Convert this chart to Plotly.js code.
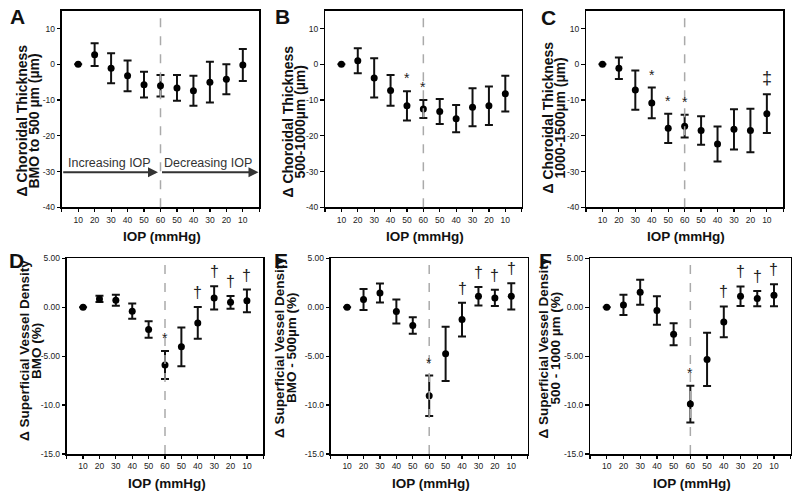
<!DOCTYPE html>
<html>
<head>
<meta charset="utf-8">
<script src="https://cdn.plot.ly/plotly-3.0.1.min.js"></script>
<style>body{margin:0;background:#fff}#chart{width:800px;height:500px}</style>
</head>
<body>
<div id="chart"></div>
<script>
// IOP steps: up to 60 then back down
var iop = [10, 20, 30, 40, 50, 60, 50, 40, 30, 20, 10];

// change in choroidal thickness (um): mean and error
var meanA = [0, 2.7, -1.1, -3.2, -5.7, -6.0, -6.6, -7.4, -5.0, -4.2, -0.2];
var errA  = [0, 3.2, 4.2, 4.3, 3.6, 3.0, 3.6, 4.2, 5.7, 4.2, 4.5];
var meanB = [0, 1.0, -3.8, -7.3, -11.6, -12.5, -13.2, -15.2, -12.0, -11.6, -8.2];
var errB  = [0, 3.5, 5.5, 4.3, 4.1, 2.5, 3.5, 3.8, 5.3, 5.4, 5.0];
var meanC = [0, -1.1, -7.2, -10.8, -17.9, -17.3, -18.5, -22.3, -18.2, -18.5, -13.8];
var errC  = [0, 3.0, 5.5, 4.3, 4.1, 3.2, 4.0, 4.9, 5.6, 6.1, 5.4];

// change in superficial vessel density (%)
var meanD = [0, 0.85, 0.71, -0.41, -2.28, -5.9, -4.05, -1.6, 0.95, 0.5, 0.65];
var errD  = [0, 0.32, 0.56, 0.78, 0.85, 1.43, 1.97, 1.62, 1.19, 0.65, 1.16];
var meanE = [0, 0.78, 1.46, -0.44, -1.87, -9.05, -4.76, -1.26, 1.12, 0.95, 1.12];
var errE  = [0, 1.07, 0.97, 1.22, 0.85, 2.06, 2.77, 1.73, 0.95, 0.83, 1.34];
var meanF = [0, 0.24, 1.53, -0.34, -2.76, -9.9, -5.34, -1.5, 1.12, 0.88, 1.22];
var errF  = [0, 1.04, 1.27, 1.46, 1.12, 1.87, 2.72, 1.58, 1.0, 0.78, 1.12];

// significance marks over the bars
var sigA = ['', '', '', '', '', '', '', '', '', '', ''];
var sigB = ['', '', '', '', '*', '*', '', '', '', '', ''];
var sigC = ['', '', '', '*', '*', '*', '', '', '', '', '‡'];
var sigD = ['', '', '', '', '', '*', '', '†', '†', '†', '†'];
var sigE = ['', '', '', '', '', '*', '', '†', '†', '†', '†'];
var sigF = ['', '', '', '', '', '*', '', '†', '†', '†', '†'];

var thickTicks = [-40, -30, -20, -10, 0, 10];
var thickTickText = ['-40', '-30', '-20', '-10', '0', '10'];
var densTicks = [-15, -10, -5, 0, 5];
var densTickText = ['-15.0', '-10.0', '-5.00', '0.00', '5.00'];

var pos = iop.map(function (v, i) { return i; });
var peak = iop.indexOf(60);

var FONT = 'Arial, Liberation Sans, sans-serif';

var panels = [
  {n: '', letter: 'A', mean: meanA, err: errA, sig: sigA, dx: [61.7, 259.3], dy: [10.7, 207.3], range: [-40, 15],
   tv: thickTicks, tt: thickTickText, title: ['Δ Choroidal Thickness', 'BMO to 500 µm (µm)'], tx: [21.5, 33.5], ty: 121, ts: 14, lx: 17, ly: 16},
  {n: '2', letter: 'B', mean: meanB, err: errB, sig: sigB, dx: [325, 521.7], dy: [10.7, 207.3], range: [-40, 15],
   tv: thickTicks, tt: thickTickText, title: ['Δ Choroidal Thickness', '500-1000µm (µm)'], tx: [287.5, 299.5], ty: 122, ts: 14, lx: 282, ly: 16},
  {n: '3', letter: 'C', mean: meanC, err: errC, sig: sigC, dx: [586, 783.3], dy: [10.7, 207.3], range: [-40, 15],
   tv: thickTicks, tt: thickTickText, title: ['Δ Choroidal Thickness', '1000-1500µm (µm)'], tx: [547.5, 559.5], ty: 118, ts: 14, lx: 548, ly: 17},
  {n: '4', letter: 'D', mean: meanD, err: errD, sig: sigD, dx: [66.7, 263.3], dy: [258.3, 454], range: [-15, 5],
   tv: densTicks, tt: densTickText, title: ['Δ Superficial Vessel Density', 'BMO (%)'], tx: [24, 36], ty: 351, ts: 13.5, lx: 16, ly: 260},
  {n: '5', letter: 'E', mean: meanE, err: errE, sig: sigE, dx: [330.7, 527.7], dy: [258.3, 454], range: [-15, 5],
   tv: densTicks, tt: densTickText, title: ['Δ Superficial Vessel Density', 'BMO - 500µm (%)'], tx: [279, 291], ty: 348, ts: 13.5, lx: 281, ly: 260},
  {n: '6', letter: 'F', mean: meanF, err: errF, sig: sigF, dx: [590, 790.7], dy: [258.3, 454], range: [-15, 5],
   tv: densTicks, tt: densTickText, title: ['Δ Superficial Vessel Density', '500 - 1000 µm (%)'], tx: [542.5, 554.5], ty: 348, ts: 13.5, lx: 545, ly: 260}
];

var data = [];
var layout = {
  width: 800, height: 500,
  margin: {l: 0, r: 0, t: 0, b: 0},
  paper_bgcolor: '#fff', plot_bgcolor: '#fff',
  showlegend: false,
  font: {family: FONT, color: '#000'},
  annotations: [],
  shapes: []
};

var xTickVals = [-1].concat(pos, [pos.length]);
var xTickText = [''].concat(iop.map(String), ['']);

panels.forEach(function (p) {
  var xa = 'x' + p.n, ya = 'y' + p.n;
  data.push({
    type: 'scatter', mode: 'markers', x: pos, y: p.mean,
    xaxis: xa, yaxis: ya,
    marker: {color: '#000', size: 7},
    error_y: {type: 'data', array: p.err, visible: true, color: '#111', thickness: 2, width: 4},
    hoverinfo: 'y'
  });

  var common = {
    showline: true, linecolor: '#000', linewidth: 1.5, mirror: true,
    ticks: 'outside', ticklen: 3.5, tickwidth: 1.2, tickcolor: '#000',
    showgrid: false, zeroline: false, fixedrange: true,
    tickfont: {size: 8.5, color: '#222'}
  };
  layout['xaxis' + p.n] = Object.assign({}, common, {
    domain: [p.dx[0] / 800, p.dx[1] / 800], anchor: ya,
    range: [-1, pos.length], tickmode: 'array', tickvals: xTickVals, ticktext: xTickText
  });
  layout['yaxis' + p.n] = Object.assign({}, common, {
    domain: [1 - p.dy[1] / 500, 1 - p.dy[0] / 500], anchor: xa,
    range: p.range, tickmode: 'array', tickvals: p.tv, ticktext: p.tt
  });

  // dashed line at the 60 mmHg turnaround
  layout.shapes.push({
    type: 'line', xref: xa, yref: ya + ' domain', x0: peak, x1: peak, y0: 0, y1: 1,
    line: {color: '#aaa', width: 1.5, dash: 'dash'}
  });

  // y title (two tight lines), x title, panel letter
  p.title.forEach(function (line, k) {
    layout.annotations.push({
      xref: 'paper', yref: 'paper', x: p.tx[k] / 800, y: 1 - p.ty / 500, text: '<b>' + line + '</b>',
      textangle: -90, showarrow: false, xanchor: 'center', yanchor: 'middle',
      font: {size: p.ts, color: '#111'}
    });
  });
  layout.annotations.push({
    xref: 'paper', yref: 'paper', x: (p.dx[0] + p.dx[1]) / 1600 + 0.002, y: 1 - (p.dy[1] + 29) / 500,
    text: '<b>IOP (mmHg)</b>', showarrow: false, xanchor: 'center', yanchor: 'middle',
    font: {size: 13.5, color: '#111'}
  });
  layout.annotations.push({
    xref: 'paper', yref: 'paper', x: p.lx / 800, y: 1 - p.ly / 500,
    text: '<b>' + p.letter + '</b>', showarrow: false, xanchor: 'center', yanchor: 'middle',
    font: {size: 21, color: '#111'}
  });

  p.sig.forEach(function (s, i) {
    if (!s) return;
    var sz = s === '*' ? 14 : (s === '‡' ? 18 : 16);
    layout.annotations.push({
      xref: xa, yref: ya, x: pos[i], y: p.mean[i] + p.err[i], text: s,
      showarrow: false, xanchor: 'center', yanchor: 'bottom', yshift: s === '*' ? 3 : 4,
      font: {size: sz, color: '#222', family: 'Liberation Sans'}
    });
  });
});

// Increasing / decreasing IOP arrows on panel A
var arrowY = -30.2;
layout.annotations.push(
  {xref: 'x', yref: 'y', x: peak - 0.15, y: arrowY, ax: -1, ay: arrowY, axref: 'x', ayref: 'y',
   showarrow: true, arrowhead: 2, arrowsize: 1, arrowwidth: 2, arrowcolor: '#333', text: ''},
  {xref: 'x', yref: 'y', x: pos.length - 0.05, y: arrowY, ax: peak, ay: arrowY, axref: 'x', ayref: 'y',
   showarrow: true, arrowhead: 2, arrowsize: 1, arrowwidth: 2, arrowcolor: '#333', text: ''},
  {xref: 'x', yref: 'y', x: 1.9, y: -27.6, text: 'Increasing IOP', showarrow: false,
   font: {size: 12.5, color: '#333'}},
  {xref: 'x', yref: 'y', x: 7.9, y: -27.6, text: 'Decreasing IOP', showarrow: false,
   font: {size: 12.5, color: '#333'}}
);

Plotly.newPlot('chart', data, layout, {displayModeBar: false, staticPlot: true});
</script>
</body>
</html>
